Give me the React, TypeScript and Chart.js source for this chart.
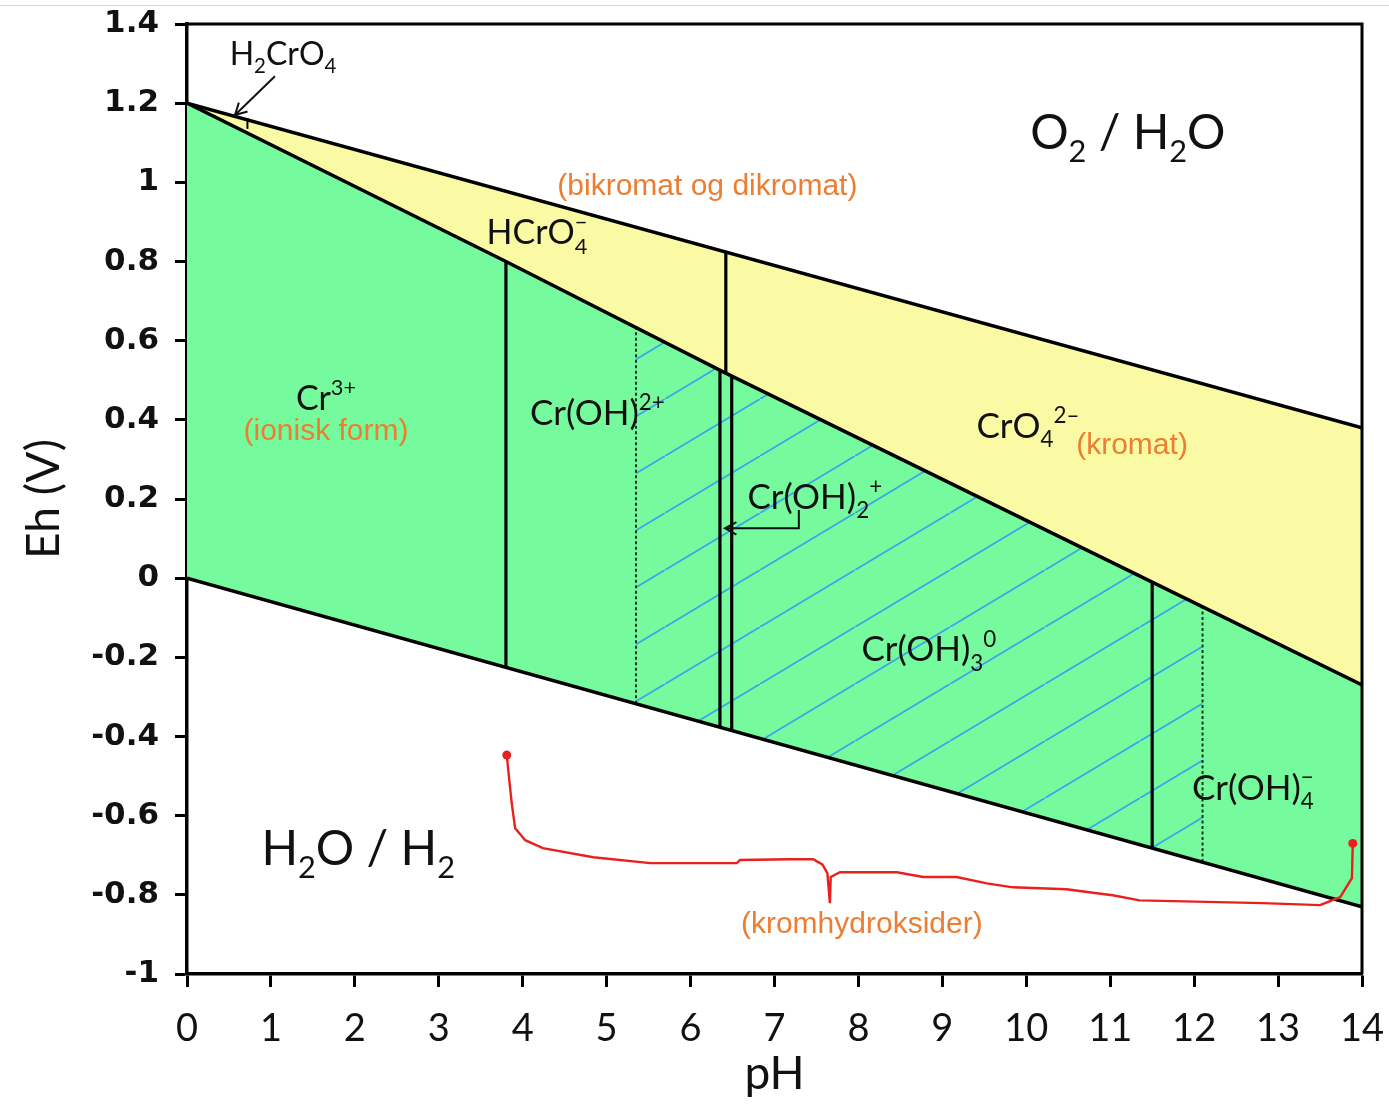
import React, { useEffect, useRef } from 'react';
import { Chart, registerables } from 'chart.js';

Chart.register(...registerables);

// ---------- axis ticks ----------
const xTicks = [0, 1, 2, 3, 4, 5, 6, 7, 8, 9, 10, 11, 12, 13, 14];
const xTickLabels = ['0', '1', '2', '3', '4', '5', '6', '7', '8', '9', '10', '11', '12', '13', '14'];
const yTicks = [-1, -0.8, -0.6, -0.4, -0.2, 0, 0.2, 0.4, 0.6, 0.8, 1, 1.2, 1.4];
const yTickLabels = ['-1', '-0.8', '-0.6', '-0.4', '-0.2', '0', '0.2', '0.4', '0.6', '0.8', '1', '1.2', '1.4'];

// ---------- boundary lines (pH, Eh) ----------
const upperWaterPH = [0, 14];
const upperWaterEh = [1.2, 0.38];
const lowerWaterPH = [0, 14];
const lowerWaterEh = [0, -0.83];
const chromiumPH = [0, 3.8, 6.4, 11.5, 14];
const chromiumEh = [1.2, 0.8, 0.52, -0.01, -0.27];
const hatchTopPH = [5.35, 6.4, 11.5, 12.1];
const hatchTopEh = [0.633, 0.52, -0.01, -0.072];

// vertical boundaries: pH, lower Eh, upper Eh
const verticalPH = [0.72, 3.8, 6.42, 6.35, 6.49, 11.5];
const verticalLow = [1.135, -0.225, 0.52, -0.376, -0.385, -0.682];
const verticalHigh = [1.162, 0.8, 0.824, 0.525, 0.511, -0.01];
const dottedPH = [5.35, 12.1];
const dottedLow = [-0.317, -0.717];
const dottedHigh = [0.633, -0.072];

// red brace (kromhydroksider)
const bracePH = [3.81, 3.84, 3.87, 3.91, 4.03, 4.24, 4.84, 5.52, 6.55, 6.59, 7.18, 7.46, 7.57, 7.63, 7.66, 7.67, 7.78, 8.46, 8.77, 9.17, 9.53, 9.84, 10.48, 10.84, 11.03, 11.35, 11.75, 12.82, 13.5, 13.74, 13.88, 13.89];
const braceEh = [-0.447, -0.51, -0.57, -0.632, -0.662, -0.682, -0.705, -0.72, -0.72, -0.712, -0.71, -0.71, -0.723, -0.745, -0.821, -0.755, -0.743, -0.743, -0.755, -0.755, -0.771, -0.781, -0.786, -0.796, -0.801, -0.814, -0.816, -0.821, -0.826, -0.806, -0.758, -0.67];

// ---------- annotations ----------
type Run = { t: string; pos?: 'sub' | 'sup'; keep?: boolean };
const speciesLabels: { x: number; y: number; size: number; runs: Run[] }[] = [
  { x: 1.144, y: 1.326, size: 32, runs: [{ t: 'H' }, { t: '2', pos: 'sub' }, { t: 'CrO' }, { t: '4', pos: 'sub' }] },
  { x: 11.21, y: 1.129, size: 48, runs: [{ t: 'O' }, { t: '2', pos: 'sub' }, { t: ' / H' }, { t: '2', pos: 'sub' }, { t: 'O' }] },
  { x: 4.17, y: 0.874, size: 34, runs: [{ t: 'HCrO' }, { t: '\u2212', pos: 'sup', keep: true }, { t: '4', pos: 'sub' }] },
  { x: 1.656, y: 0.457, size: 34, runs: [{ t: 'Cr' }, { t: '3+', pos: 'sup' }] },
  { x: 4.89, y: 0.419, size: 35, runs: [{ t: 'Cr(OH)' }, { t: '2+', pos: 'sup' }] },
  { x: 7.48, y: 0.207, size: 35, runs: [{ t: 'Cr(OH)' }, { t: '2', pos: 'sub' }, { t: '+', pos: 'sup' }] },
  { x: 10.02, y: 0.386, size: 35, runs: [{ t: 'CrO' }, { t: '4', pos: 'sub' }, { t: '2\u2013', pos: 'sup' }] },
  { x: 8.84, y: -0.178, size: 35, runs: [{ t: 'Cr(OH)' }, { t: '3', pos: 'sub' }, { t: '0', pos: 'sup' }] },
  { x: 12.7, y: -0.528, size: 35, runs: [{ t: 'Cr(OH)' }, { t: '\u2212', pos: 'sup', keep: true }, { t: '4', pos: 'sub' }] },
  { x: 2.04, y: -0.682, size: 48, runs: [{ t: 'H' }, { t: '2', pos: 'sub' }, { t: 'O / H' }, { t: '2', pos: 'sub' }] },
];
const noteLabels = [
  { x: 6.2, y: 0.99, text: '(bikromat og dikromat)' },
  { x: 1.656, y: 0.369, text: '(ionisk form)' },
  { x: 11.26, y: 0.334, text: '(kromat)' },
  { x: 8.04, y: -0.875, text: '(kromhydroksider)' },
];
const arrows: number[][][] = [
  [[1.048, 1.268], [0.572, 1.17]],
  [[7.29, 0.172], [7.29, 0.126], [6.41, 0.126]],
];

const GREEN = 'rgb(117,251,157)';
const YELLOW = 'rgb(250,250,165)';
const ORANGE = '#ED7D31';
const RED = '#E8201E';
const LABEL_FONT = 'Lato, "Open Sans", sans-serif';

const pts = (xs: number[], ys: number[]) => xs.map((x, i) => ({ x, y: ys[i] }));

function makeHatch(): CanvasPattern | string {
  const w = 95, h = 57;
  const c = document.createElement('canvas');
  c.width = w; c.height = h;
  const g = c.getContext('2d');
  if (!g) return 'transparent';
  g.strokeStyle = 'rgb(58,165,238)';
  g.lineWidth = 1.8;
  for (const [dx, dy] of [[0, 0], [-w, h], [w, -h]]) {
    g.beginPath();
    g.moveTo(dx, h + dy);
    g.lineTo(w + dx, dy);
    g.stroke();
  }
  const p = g.createPattern(c, 'repeat');
  return p || 'transparent';
}

function drawRuns(ctx: CanvasRenderingContext2D, runs: Run[], cx: number, cy: number, size: number, color: string) {
  const small = size * 0.64;
  let x = 0;
  const items: { r: Run; fs: number; x: number }[] = [];
  for (const r of runs) {
    const fs = r.pos ? small : size;
    ctx.font = `${fs}px ${LABEL_FONT}`;
    const w = ctx.measureText(r.t).width;
    items.push({ r, fs, x });
    if (!r.keep) x += w;
  }
  const x0 = cx - x / 2;
  const base = cy + size * 0.36;
  ctx.fillStyle = color;
  ctx.textAlign = 'left';
  ctx.textBaseline = 'alphabetic';
  for (const it of items) {
    ctx.font = `${it.fs}px ${LABEL_FONT}`;
    const dy = it.r.pos === 'sub' ? size * 0.27 : it.r.pos === 'sup' ? -size * 0.42 : 0;
    ctx.fillText(it.r.t, x0 + it.x, base + dy);
  }
}

const annotationPlugin = {
  id: 'pourbaixAnnotations',
  afterDatasetsDraw(chart: any) {
    const { ctx, chartArea, scales } = chart;
    const sx = scales.x, sy = scales.y;
    ctx.save();
    // frame top and right
    ctx.strokeStyle = '#000';
    ctx.lineWidth = 3;
    ctx.beginPath();
    ctx.moveTo(chartArea.left, chartArea.top);
    ctx.lineTo(chartArea.right, chartArea.top);
    ctx.lineTo(chartArea.right, chartArea.bottom);
    ctx.stroke();

    // arrows
    ctx.lineWidth = 2;
    ctx.strokeStyle = '#111';
    for (const a of arrows) {
      const p = a.map(([x, y]) => [sx.getPixelForValue(x), sy.getPixelForValue(y)]);
      ctx.beginPath();
      ctx.moveTo(p[0][0], p[0][1]);
      for (let i = 1; i < p.length; i++) ctx.lineTo(p[i][0], p[i][1]);
      ctx.stroke();
      const [ex, ey] = p[p.length - 1];
      const [px, py] = p[p.length - 2];
      const ang = Math.atan2(ey - py, ex - px);
      const L = 13, spread = 0.5;
      ctx.beginPath();
      ctx.moveTo(ex - L * Math.cos(ang - spread), ey - L * Math.sin(ang - spread));
      ctx.lineTo(ex, ey);
      ctx.lineTo(ex - L * Math.cos(ang + spread), ey - L * Math.sin(ang + spread));
      ctx.stroke();
    }

    // species labels
    for (const l of speciesLabels) {
      drawRuns(ctx, l.runs, sx.getPixelForValue(l.x), sy.getPixelForValue(l.y), l.size, '#111');
    }
    // orange notes
    ctx.fillStyle = ORANGE;
    ctx.font = '30px "Liberation Sans", Arial, sans-serif';
    ctx.textAlign = 'center';
    ctx.textBaseline = 'middle';
    for (const n of noteLabels) {
      ctx.fillText(n.text, sx.getPixelForValue(n.x), sy.getPixelForValue(n.y));
    }
    ctx.restore();
  },
};

export default function App() {
  const ref = useRef<HTMLCanvasElement | null>(null);

  useEffect(() => {
    const canvas = ref.current;
    if (!canvas) return;
    const hatch = makeHatch();
    const lineDs = (label: string, data: any[], extra: any = {}) => ({
      label,
      data,
      borderColor: '#000',
      borderWidth: 3.5,
      pointRadius: 0,
      fill: false,
      order: 1,
      ...extra,
    });
    const datasets: any[] = [
      lineDs('upperWater', pts(upperWaterPH, upperWaterEh)), // 0
      lineDs('chromium', pts(chromiumPH, chromiumEh)), // 1
      lineDs('lowerWater', pts(lowerWaterPH, lowerWaterEh)), // 2
      lineDs('yellowFill', pts(upperWaterPH, upperWaterEh), { borderWidth: 0, borderColor: 'rgba(0,0,0,0)', fill: 1, backgroundColor: YELLOW, order: 10 }),
      lineDs('greenFill', pts(lowerWaterPH, lowerWaterEh), { borderWidth: 0, borderColor: 'rgba(0,0,0,0)', fill: 1, backgroundColor: GREEN, order: 10 }),
      lineDs('hatchFill', pts(hatchTopPH, hatchTopEh), { borderWidth: 0, borderColor: 'rgba(0,0,0,0)', fill: 2, backgroundColor: hatch, order: 9 }),
    ];
    verticalPH.forEach((x, i) => {
      datasets.push(lineDs('vertical' + i, [{ x, y: verticalLow[i] }, { x, y: verticalHigh[i] }], { borderWidth: i === 0 ? 2 : 3.2 }));
    });
    dottedPH.forEach((x, i) => {
      datasets.push(lineDs('dotted' + i, [{ x, y: dottedLow[i] }, { x, y: dottedHigh[i] }], { borderWidth: 2, borderColor: '#1a3322', borderDash: [3, 2.5], order: 2 }));
    });
    datasets.push(lineDs('brace', pts(bracePH, braceEh), {
      borderColor: RED,
      borderWidth: 2.4,
      order: 0,
      pointRadius: bracePH.map((_, i) => (i === 0 || i === bracePH.length - 1 ? 4.5 : 0)),
      pointBackgroundColor: RED,
      pointBorderWidth: 0,
    }));

    const chart = new Chart(canvas, {
      type: 'line',
      data: { datasets },
      options: {
        responsive: false,
        animation: false,
        devicePixelRatio: 1,
        layout: { padding: { left: 17, top: 24, right: 27, bottom: 0 } },
        elements: { point: { radius: 0 }, line: { tension: 0 } },
        plugins: {
          legend: { display: false },
          tooltip: { enabled: false },
          colors: { enabled: false },
        },
        scales: {
          x: {
            type: 'linear',
            min: 0,
            max: 14,
            afterBuildTicks: (s: any) => { s.ticks = xTicks.map((v) => ({ value: v })); },
            afterFit: (s: any) => { s.height = 130; s.paddingLeft = 0; s.paddingRight = 0; },
            ticks: {
              autoSkip: false,
              maxRotation: 0,
              padding: 19,
              color: '#111',
              font: { family: 'Lato', size: 38 },
              callback: (_v: any, i: number) => xTickLabels[i],
            },
            grid: { display: true, drawOnChartArea: false, drawTicks: true, tickLength: 13, tickWidth: 3, tickColor: '#000' },
            border: { display: true, color: '#000', width: 3.5 },
            title: { display: true, text: 'pH', color: '#111', font: { family: 'Lato', size: 46 }, padding: { top: 0, bottom: 2 } },
          },
          y: {
            type: 'linear',
            min: -1,
            max: 1.4,
            afterBuildTicks: (s: any) => { s.ticks = yTicks.map((v) => ({ value: v })); },
            afterFit: (s: any) => { s.width = 170; s.paddingTop = 0; s.paddingBottom = 0; },
            ticks: {
              padding: 16,
              color: '#111',
              font: { family: '"DejaVu Sans"', size: 31, weight: 'bold' },
              callback: (_v: any, i: number) => yTickLabels[i],
            },
            grid: { display: true, drawOnChartArea: false, drawTicks: true, tickLength: 12, tickWidth: 3, tickColor: '#000' },
            border: { display: true, color: '#000', width: 3.5 },
            title: { display: true, text: 'Eh (V)', color: '#111', font: { family: 'Lato', size: 46 }, padding: { top: 0, bottom: 0 } },
          },
        },
      },
      plugins: [annotationPlugin],
    } as any);
    return () => chart.destroy();
  }, []);

  return (
    <div style={{ position: 'absolute', left: 0, top: 0, width: 1389, height: 1104, background: '#fff', overflow: 'hidden' }}>
      <canvas ref={ref} width={1389} height={1104} style={{ display: 'block', width: 1389, height: 1104 }} />
      <div style={{ position: 'absolute', left: 0, top: 5, width: 1389, height: 1, background: '#d6d6d6' }} />
    </div>
  );
}
